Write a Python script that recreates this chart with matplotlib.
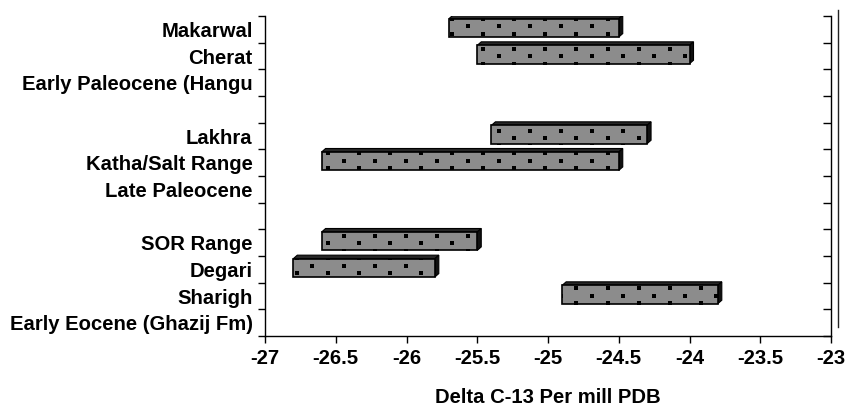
import matplotlib
matplotlib.use('Agg')
import matplotlib.pyplot as plt
import numpy as np
from matplotlib.patches import Polygon, Rectangle

plt.rcParams['font.family'] = ['Liberation Sans', 'DejaVu Sans']
plt.rcParams['font.weight'] = 'bold'

categories = ['Makarwal', 'Cherat', 'Early Paleocene (Hangu', '',
              'Lakhra', 'Katha/Salt Range', 'Late Paleocene', '',
              'SOR Range', 'Degari', 'Sharigh', 'Early Eocene (Ghazij Fm)']
low = [-25.7, -25.5, None, None, -25.4, -26.6, None, None, -26.6, -26.8, -24.9, None]
high = [-24.5, -24.0, None, None, -24.3, -24.5, None, None, -25.5, -25.8, -23.8, None]

x_ticks = [-27, -26.5, -26, -25.5, -25, -24.5, -24, -23.5, -23]
x_labels = ['-27', '-26.5', '-26', '-25.5', '-25', '-24.5', '-24', '-23.5', '-23']

W, H = 846, 408
fig = plt.figure(figsize=(W / 100, H / 100), dpi=100)
ax = fig.add_axes([265 / W, 1 - 336 / H, 566 / W, 320 / H])

n = len(categories)
ax.set_xlim(-27, -23)
ax.set_ylim(n - 0.5, -0.5)

# pixel -> data conversion for the fake 3d depth
ux = 4 / 566
uy = n / 320
dx = 4 * ux
dy = 3.5 * uy
bar_off = -0.40
bar_h = 0.69
fs = 14.6

# dot pattern (global grid, like the excel fill pattern)
rows = np.arange(0, 46)
dot_x, dot_y = [], []
for r in rows:
    xs = -26.555 + 0.2195 * np.arange(-3, 20) + (0.11 if r % 2 else 0)
    dot_x += list(xs)
    dot_y += [bar_off + 0.2806 * r] * len(xs)
dot_x = np.array(dot_x)
dot_y = np.array(dot_y)

for i, (lo, hi) in enumerate(zip(low, high)):
    if lo is None:
        continue
    y0 = i + bar_off
    y1 = y0 + bar_h
    top = Polygon([(lo, y0), (lo + dx, y0 - dy), (hi + dx, y0 - dy), (hi, y0)],
                  closed=True, fc='#262626', ec='black', lw=0.8, zorder=2)
    side = Polygon([(hi, y0), (hi + dx, y0 - dy), (hi + dx, y1 - dy), (hi, y1)],
                   closed=True, fc='#111111', ec='black', lw=0.8, zorder=2)
    front = Rectangle((lo, y0), hi - lo, bar_h, fc='#8c8c8c', ec='black', lw=1.2, zorder=3)
    ax.add_patch(top)
    ax.add_patch(side)
    ax.add_patch(front)
    m = (dot_x >= lo - 0.05) & (dot_x <= hi + 0.05) & (dot_y >= y0 - 0.1) & (dot_y <= y1 + 0.1)
    sc = ax.scatter(dot_x[m], dot_y[m], s=8, marker='s', c='black', linewidths=0, zorder=4)
    sc.set_clip_path(front)

ax.set_yticks(np.arange(n), categories)
ax.set_yticks(np.arange(-0.5, n), minor=True)
ax.tick_params(axis='y', which='major', length=0, pad=9, labelsize=fs)
ax.tick_params(axis='y', which='minor', length=5, width=1, direction='out', left=True)

ax.set_xticks(x_ticks, x_labels)
ax.tick_params(axis='x', length=5, width=1, direction='out', pad=4, labelsize=fs)
ax.set_xlabel('Delta C-13 Per mill PDB', fontsize=fs, fontweight='bold', labelpad=15)

ax.spines['top'].set_visible(False)
ax.spines['right'].set_visible(False)
for s in ['left', 'bottom']:
    ax.spines[s].set_linewidth(1)

# right axis with inward ticks
ax2 = ax.twinx()
ax2.set_ylim(ax.get_ylim())
ax2.set_yticks([])
ax2.set_yticks(np.arange(-0.5, n), minor=True)
ax2.tick_params(axis='y', which='minor', length=6, width=1, direction='in', right=True, left=False)
for s in ['top', 'left', 'bottom']:
    ax2.spines[s].set_visible(False)
ax2.spines['right'].set_linewidth(1)

# back wall edge
ax.plot([1 + 7 / 566, 1 + 7 / 566], [9 / 320, 1 + 6 / 320], transform=ax.transAxes,
        color='#222222', lw=1, clip_on=False)

fig.savefig('out.png', dpi=100)
